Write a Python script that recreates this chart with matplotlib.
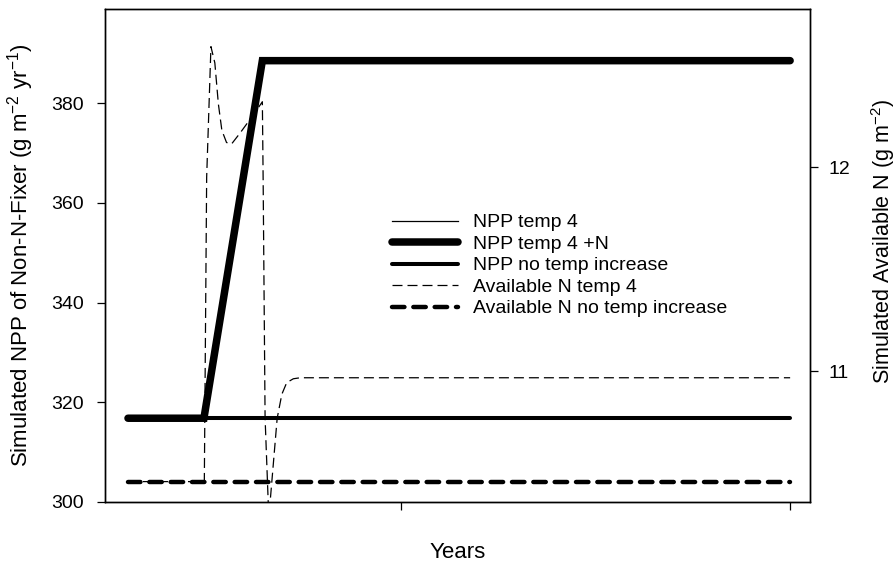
import numpy as np
import matplotlib
matplotlib.use("Agg")
import matplotlib.pyplot as plt

plt.rcParams['font.family'] = ['Liberation Sans', 'DejaVu Sans']
plt.rcParams['mathtext.fontset'] = 'custom'
plt.rcParams['mathtext.rm'] = 'Liberation Sans'
plt.rcParams['mathtext.it'] = 'Liberation Sans'

# NPP series (left axis)
years_flat = [0, 170]
npp_temp4 = [316.8, 316.8]
npp_notemp = [316.8, 316.8]
years_plusn = [0, 19.5, 34.5, 170]
npp_temp4_plusn = [316.8, 316.8, 388.5, 388.5]

# available N series (right axis)
years_n = [0, 19.6, 20.2, 21.3, 22.3, 23.2, 24.1, 25.3, 26.6, 28.8, 30.9, 33.05,
           34.5, 34.7, 35.2, 36.0, 36.2, 36.5, 38.3, 39.5, 40.75, 42.45, 44.2, 170]
availn_temp4 = [10.458, 10.458, 11.95, 12.59, 12.51, 12.31, 12.18, 12.12, 12.113,
                12.167, 12.222, 12.279, 12.32, 11.94, 10.77, 10.36, 10.30, 10.36,
                10.768, 10.886, 10.943, 10.962, 10.967, 10.967]
availn_notemp = [10.458, 10.458]

fig = plt.figure(figsize=(8.96, 5.62), dpi=100)
ax = fig.add_axes([105/896, 1-502/562, 705/896, (502-9.3)/562])
ax2 = ax.twinx()

l1, = ax.plot(years_flat, npp_temp4, color='black', lw=0.9)
l3, = ax.plot(years_flat, npp_notemp, color='black', lw=2.9, solid_capstyle='round')
l2, = ax.plot(years_plusn, npp_temp4_plusn, color='black', lw=5.4,
              solid_capstyle='round', solid_joinstyle='miter')

l4, = ax2.plot(years_n, availn_temp4, color='black', lw=0.9, dashes=(8, 4))
l5, = ax2.plot(years_flat, availn_notemp, color='black', lw=3.2,
               dashes=(2.8, 2.0), dash_capstyle='round')

ax.set_xlim(-5.9, 175.1)
ax.set_ylim(300, 398.8)
ax2.set_ylim(10.358, 12.773)

ax.set_xticks([70, 170])
ax.set_xticklabels([])
ax.set_yticks([300, 320, 340, 360, 380])
ax2.set_yticks([11, 12])

for a in (ax, ax2):
    a.tick_params(direction='out', length=6, width=0.9, pad=7, labelsize=14, colors='black')
    for s in a.spines.values():
        s.set_linewidth(1.0)
ax.tick_params(axis='y', pad=9)

ax.set_xlabel('Years', fontsize=16, labelpad=16)
ax.set_ylabel('Simulated NPP of Non-N-Fixer (g m$^{-2}$ yr$^{-1}$)', fontsize=16, labelpad=11)
ax2.set_ylabel('Simulated Available N (g m$^{-2}$)', fontsize=15.5)
ax2.yaxis.set_label_coords(1.0837, 0.528)

ax2.legend([l1, l2, l3, l4, l5],
           ['NPP temp 4', 'NPP temp 4 +N', 'NPP no temp increase',
            'Available N temp 4', 'Available N no temp increase'],
           loc='upper left', bbox_to_anchor=(0.407, 0.585),
           frameon=False, fontsize=14, handlelength=3.4, handletextpad=0.77,
           labelspacing=0.2, borderaxespad=0, borderpad=0)

fig.savefig('out.png', dpi=100)
